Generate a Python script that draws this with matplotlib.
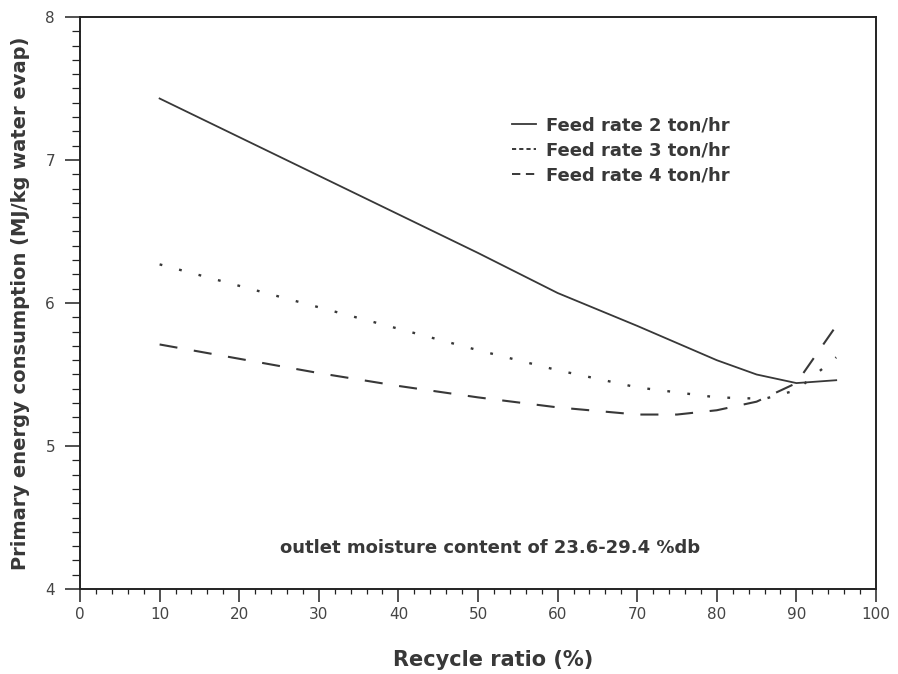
import matplotlib
matplotlib.use('Agg')
import matplotlib.pyplot as plt
from matplotlib.lines import Line2D
from matplotlib.ticker import MultipleLocator

plt.rcParams['font.family'] = ['DejaVu Sans']
plt.rcParams['lines.scale_dashes'] = False

# 数据：从图上读取
recycle = [10, 20, 30, 40, 50, 60, 70, 80, 85, 90, 95]
feed2 = [7.43, 7.16, 6.89, 6.62, 6.35, 6.07, 5.84, 5.60, 5.50, 5.44, 5.46]

recycle3 = [10, 20, 30, 40, 50, 60, 70, 80, 86, 90, 95]
feed3 = [6.27, 6.12, 5.97, 5.82, 5.67, 5.53, 5.41, 5.34, 5.33, 5.39, 5.62]

recycle4 = [10, 20, 30, 40, 50, 60, 70, 75, 80, 85, 90, 95]
feed4 = [5.71, 5.61, 5.51, 5.42, 5.34, 5.27, 5.22, 5.22, 5.25, 5.31, 5.44, 5.84]

labels = ['Feed rate 2 ton/hr', 'Feed rate 3 ton/hr', 'Feed rate 4 ton/hr']
note = 'outlet moisture content of 23.6-29.4 %db'

ink = '#383838'

fig = plt.figure(figsize=(8.98, 6.74), dpi=100)
ax = fig.add_axes([0.0891, 0.1261, 0.8864, 0.8487])

ax.plot(recycle, feed2, color=ink, lw=1.3, linestyle='-')
ax.plot(recycle3, feed3, color=ink, lw=1.7, linestyle=(0, (2, 12.5)))
ax.plot(recycle4, feed4, color=ink, lw=1.5, linestyle=(0, (13, 12)))

ax.set_xlim(0, 100)
ax.set_ylim(4, 8)
ax.xaxis.set_major_locator(MultipleLocator(10))
ax.xaxis.set_minor_locator(MultipleLocator(2))
ax.yaxis.set_major_locator(MultipleLocator(1))
ax.yaxis.set_minor_locator(MultipleLocator(0.1))

for s in ax.spines.values():
    s.set_color('#222222')
    s.set_linewidth(1.4)

ax.tick_params(axis='x', which='major', direction='out', length=9, width=1.1,
               pad=4, labelsize=11, colors='#222222', labelcolor='#444444')
ax.tick_params(axis='x', which='minor', direction='out', length=3.5, width=0.9, colors='#222222')
ax.tick_params(axis='y', which='major', direction='out', length=11, width=1.1,
               pad=7, labelsize=11, colors='#222222', labelcolor='#444444')
ax.tick_params(axis='y', which='minor', direction='out', length=6, width=0.9, colors='#222222')

ax.set_xlabel('Recycle ratio (%)', fontsize=15, fontweight='bold', color=ink,
              labelpad=20, x=0.519)
ax.set_ylabel('Primary energy consumption (MJ/kg water evap)', fontsize=14,
              fontweight='bold', color=ink, labelpad=11)

# 图例用较短的虚线样式
handles = [Line2D([], [], color=ink, lw=1.3, linestyle='-'),
           Line2D([], [], color=ink, lw=1.4, linestyle=(0, (3, 2.2))),
           Line2D([], [], color=ink, lw=1.4, linestyle=(0, (6, 4)))]
leg = ax.legend(handles, labels, loc='upper left', bbox_to_anchor=(0.543, 0.8265),
                frameon=False, borderpad=0, borderaxespad=0,
                handlelength=1.3, handletextpad=0.55, labelspacing=0.39,
                prop={'size': 13, 'weight': 'bold'})
for t in leg.get_texts():
    t.set_color(ink)

ax.text(51.5, 4.29, note, ha='center', va='center', fontsize=13,
        fontweight='bold', color=ink)

fig.savefig('out.png', dpi=100)
